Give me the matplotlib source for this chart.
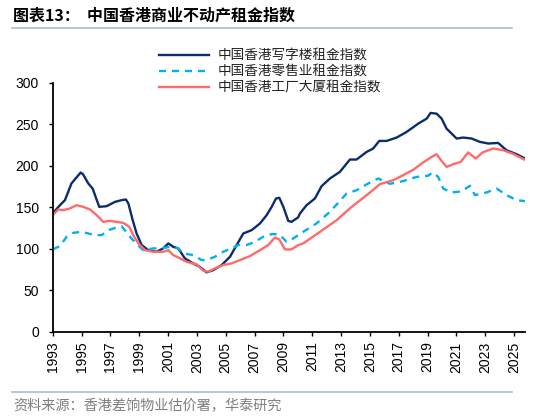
import matplotlib
matplotlib.use("Agg")
import matplotlib.pyplot as plt
from matplotlib.lines import Line2D
import numpy as np

plt.rcParams['font.family'] = ['Liberation Sans', 'DejaVu Sans']
CJK = ['Noto Sans CJK SC', 'DejaVu Sans']

# values (year, index)
office_years = [1993.0, 1993.5, 1993.85, 1994.3, 1994.94, 1995.1, 1995.47, 1995.77, 1996.23, 1996.74,
                1997.32, 1997.78, 1998.08, 1998.25, 1998.55, 1998.82, 1999.17, 1999.63, 2000.2, 2000.67,
                2001.02, 2001.36, 2001.71, 2002.17, 2002.75, 2003.2, 2003.68, 2004.14, 2004.72, 2005.3,
                2005.76, 2006.22, 2006.8, 2007.38, 2007.84, 2008.19, 2008.49, 2008.72, 2009.0, 2009.34,
                2009.57, 2010.03, 2010.15, 2010.61, 2011.19, 2011.65, 2012.23, 2012.92, 2013.62, 2014.08,
                2014.78, 2015.23, 2015.65, 2016.16, 2016.86, 2017.55, 2018.36, 2018.94, 2019.21, 2019.63,
                2019.98, 2020.32, 2020.67, 2021.02, 2021.47, 2022.06, 2022.63, 2023.21, 2023.9, 2024.48,
                2025.18, 2025.76]
office_vals = [142.6, 152.6, 158.7, 178.8, 192.0, 190.0, 178.8, 172.7, 150.6, 151.4,
               156.6, 158.7, 159.5, 154.7, 134.6, 118.5, 104.5, 98.4, 96.4, 100.5,
               106.5, 102.4, 100.5, 88.4, 82.4, 78.3, 71.6, 74.3, 80.4, 90.4,
               104.5, 118.5, 122.5, 130.6, 140.6, 150.6, 160.7, 161.5, 150.6, 133.7,
               132.5, 138.0, 142.6, 152.6, 160.7, 175.5, 184.8, 192.8, 207.7, 207.7,
               216.9, 221.0, 230.1, 230.1, 234.2, 241.0, 251.0, 257.0, 263.9, 263.0,
               257.0, 245.0, 239.0, 233.0, 234.2, 233.0, 229.0, 227.0, 227.7, 218.9,
               214.1, 209.0]

retail_years = [1993.0, 1993.5, 1993.97, 1994.43, 1995.0, 1995.47, 1995.93, 1996.4, 1996.86, 1997.44,
                1997.78, 1998.0, 1998.36, 1998.78, 1999.28, 1999.98, 2000.56, 2001.13, 2001.71, 2002.06,
                2002.75, 2003.33, 2003.68, 2004.25, 2004.83, 2005.41, 2005.87, 2006.45, 2007.03, 2007.6,
                2008.19, 2008.64, 2009.0, 2009.22, 2009.69, 2010.38, 2011.3, 2012.23, 2013.39, 2014.08,
                2014.89, 2015.58, 2016.39, 2017.31, 2018.24, 2019.05, 2019.35, 2019.74, 2020.09, 2020.67,
                2021.36, 2021.94, 2022.29, 2023.1, 2023.79, 2024.48, 2025.18, 2025.76]
retail_vals = [99.3, 103.3, 114.5, 119.3, 120.5, 118.5, 116.5, 116.5, 122.5, 125.8,
               127.3, 122.5, 114.5, 106.5, 98.4, 100.5, 100.5, 102.4, 100.5, 94.5,
               92.4, 86.4, 86.4, 90.4, 96.4, 100.5, 104.5, 104.5, 108.4, 114.5,
               117.7, 117.7, 112.5, 108.4, 112.5, 120.5, 130.6, 144.6, 166.7, 170.7,
               178.8, 184.8, 178.4, 181.7, 186.7, 188.2, 192.2, 186.7, 172.7, 168.0,
               169.3, 176.0, 164.7, 168.0, 172.7, 164.7, 158.7, 157.5]

factory_years = [1993.0, 1993.39, 1993.73, 1994.2, 1994.66, 1995.12, 1995.59, 1996.05, 1996.51, 1996.97,
                 1997.44, 1997.9, 1998.31, 1998.59, 1998.94, 1999.4, 1999.98, 2000.67, 2001.02, 2001.36,
                 2001.71, 2002.29, 2002.99, 2003.45, 2003.79, 2004.25, 2004.83, 2005.41, 2005.99, 2006.68,
                 2007.38, 2007.95, 2008.42, 2008.72, 2009.11, 2009.57, 2010.03, 2010.38, 2011.54, 2012.7,
                 2013.74, 2014.78, 2015.7, 2016.62, 2017.31, 2018.0, 2018.7, 2019.28, 2019.63, 2019.98,
                 2020.32, 2020.78, 2021.3, 2021.82, 2022.35, 2022.82, 2023.55, 2024.25, 2024.94, 2025.76]
factory_vals = [140.6, 147.4, 146.6, 148.7, 152.6, 150.6, 147.4, 140.6, 132.5, 133.7,
                132.5, 131.3, 126.5, 116.5, 106.5, 98.4, 96.4, 96.4, 98.4, 92.4,
                89.6, 84.3, 81.2, 73.5, 72.3, 76.4, 80.4, 82.4, 86.4, 91.2,
                98.4, 104.5, 113.7, 111.3, 99.3, 99.3, 104.5, 106.5, 120.5, 134.6,
                150.6, 164.7, 178.0, 182.8, 188.8, 195.2, 204.2, 210.8, 214.1, 206.0,
                198.8, 202.0, 204.8, 216.3, 208.9, 216.3, 221.0, 218.9, 214.5, 207.3]

labels = ['中国香港写字楼租金指数', '中国香港零售业租金指数', '中国香港工厂大厦租金指数']
colors = ['#0C2D6B', '#00B0F0', '#FF6B6B']
xtick_years = list(range(1993, 2026, 2))
yticks = [0, 50, 100, 150, 200, 250, 300]

fig = plt.figure(figsize=(5.5, 4.2), dpi=100)
ax = fig.add_axes([0.0958, 0.2102, 0.8587, 0.5922])

ax.plot(office_years, office_vals, color=colors[0], lw=1.7, label=labels[0])
ax.plot(retail_years, retail_vals, color=colors[1], lw=1.7, ls=(0, (3.0, 2.5)), label=labels[1])
ax.plot(factory_years, factory_vals, color=colors[2], lw=1.7, label=labels[2])

ax.set_xlim(1993, 2025.76)
ax.set_ylim(0, 300)
ax.set_xticks(xtick_years)
ax.set_xticklabels([str(y) for y in xtick_years], rotation=90, fontsize=10)
ax.set_yticks(yticks)
ax.tick_params(axis='y', labelsize=10, length=3, width=1, direction='out', pad=7)
ax.tick_params(axis='x', length=3, width=1, direction='out', pad=4)
for s in ['top', 'right']:
    ax.spines[s].set_visible(False)
for s in ['left', 'bottom']:
    ax.spines[s].set_linewidth(1.3)

leg = ax.legend(loc='upper left', bbox_to_anchor=(152 / 550, 1 - 42 / 420),
                bbox_transform=fig.transFigure, frameon=False, borderpad=0,
                handlelength=3.7, handletextpad=0.65, labelspacing=0.15,
                prop={'family': CJK, 'size': 9.8})
for t in leg.get_texts():
    t.set_color('#222222')

# title and source
fig.text(13 / 550, 1 - 16 / 420, '图表13：  中国香港商业不动产租金指数', family=CJK,
         fontsize=11.5, fontweight='bold', va='center', ha='left')
fig.add_artist(Line2D([12 / 550, 512 / 550], [1 - 28 / 420] * 2, color='#A9BCD0', lw=1.2))
fig.add_artist(Line2D([12 / 550, 512 / 550], [1 - 392 / 420] * 2, color='#A9BCD0', lw=1.2))
fig.text(13 / 550, 1 - 406 / 420, '资料来源：香港差饷物业估价署，华泰研究', family=CJK,
         fontsize=10.2, color='#7F7F7F', va='center', ha='left')

fig.savefig('out.png', dpi=100)
